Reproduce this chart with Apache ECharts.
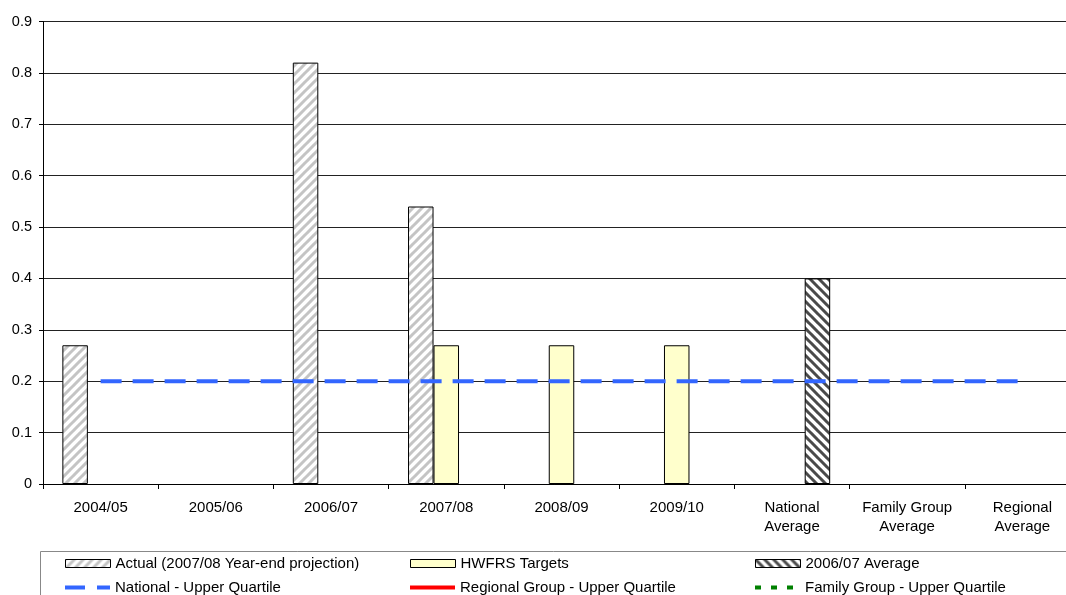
<!DOCTYPE html>
<html>
<head>
<meta charset="utf-8">
<script src="https://cdn.jsdelivr.net/npm/echarts@6/dist/echarts.min.js"></script>
<style>
  html, body { margin: 0; padding: 0; background: #fff; }
  #chart { width: 1066px; height: 595px; }
</style>
</head>
<body>
<div id="chart"></div>
<script>
// Categories along the x axis
const categories = ['2004/05', '2005/06', '2006/07', '2007/08', '2008/09', '2009/10',
  'National\nAverage', 'Family Group\nAverage', 'Regional\nAverage'];

// Bar series values
const actualValues = [0.27, null, 0.82, 0.54, null, null, null, null, null];
const targetValues = [null, null, null, 0.27, 0.27, 0.27, null, null, null];
const averageValues = [null, null, null, null, null, null, 0.40, null, null];

// Benchmark lines
const nationalUQ = [0.2, 0.2, 0.2, 0.2, 0.2, 0.2, 0.2, 0.2, 0.2];
const regionalUQ = [null, null, null, null, null, null, null, null, null];
const familyUQ = [null, null, null, null, null, null, null, null, null];

// Y axis
const yMin = 0, yMax = 0.9, yStep = 0.1;

const FONT = "'Liberation Sans', Arial, sans-serif";

// Diagonal hatch fill built on a small repeating canvas
function hatch(stripe, dir) {
  const size = 9;
  const c = document.createElement('canvas');
  c.width = size; c.height = size;
  const g = c.getContext('2d');
  g.fillStyle = '#ffffff';
  g.fillRect(0, 0, size, size);
  g.strokeStyle = stripe;
  g.lineWidth = 3;
  g.beginPath();
  for (let k = -1; k <= 1; k++) {
    if (dir === '/') {
      g.moveTo(k * size - 1, size + 1);
      g.lineTo(k * size + size + 1, -1);
    } else {
      g.moveTo(k * size - 1, -1);
      g.lineTo(k * size + size + 1, size + 1);
    }
  }
  g.stroke();
  return { image: c, repeat: 'repeat' };
}

const actualFill = hatch('#c4c4c4', '/');
const averageFill = hatch('#4a4a4a', '\\');

const chart = echarts.init(document.getElementById('chart'), null, { renderer: 'canvas' });

// Legend icons for the line entries, drawn as filled dash shapes
const ICON_DASH_LONG = 'path://M0,0h20v4h-20z M32,0h13v4h-13z';
const ICON_SOLID = 'path://M0,0h45v4h-45z';
const ICON_DASH_SHORT = 'path://M0,0h6v4h-6z M16,0h6v4h-6z M32,0h6v4h-6z M45,0h0v4h0z';

function legendAt(name, left, top, icon, h) {
  return {
    data: [{ name: name, icon: icon }], left: left, top: top, orient: 'horizontal',
    padding: 0, itemWidth: 45, itemHeight: h, itemGap: 0,
    itemStyle: { borderWidth: icon === 'rect' ? 1 : 0, borderColor: '#000' },
    textStyle: { fontFamily: FONT, fontSize: 15, color: '#000' },
    selectedMode: false
  };
}

const option = {
  animation: false,
  backgroundColor: '#fff',
  textStyle: { fontFamily: FONT, fontSize: 15, color: '#000' },
  grid: { left: 43, top: 21.5, width: 1037, bottom: 111, containLabel: false, outerBoundsMode: 'none' },
  xAxis: {
    type: 'category',
    data: categories,
    boundaryGap: true,
    axisLine: { lineStyle: { color: '#000', width: 1 } },
    axisTick: { show: true, length: 5, lineStyle: { color: '#000' }, inside: false },
    axisLabel: { fontFamily: FONT, fontSize: 15, color: '#000', margin: 14, lineHeight: 19, interval: 0 },
    splitLine: { show: false }
  },
  yAxis: {
    type: 'value',
    min: yMin, max: yMax, interval: yStep,
    axisLine: { show: true, lineStyle: { color: '#000', width: 1 } },
    axisTick: { show: true, length: 4, lineStyle: { color: '#000' } },
    axisLabel: { fontFamily: FONT, fontSize: 14.5, color: '#000', margin: 11,
      formatter: v => String(Math.round(v * 10) / 10) },
    splitLine: { show: true, lineStyle: { color: '#222', width: 1 } }
  },
  legend: [
    legendAt('Actual (2007/08 Year-end projection)', 65, 556, 'rect', 8),
    legendAt('HWFRS Targets', 410, 556, 'rect', 8),
    legendAt('2006/07 Average', 755, 556, 'rect', 8),
    legendAt('National - Upper Quartile', 65, 580, ICON_DASH_LONG, 4),
    legendAt('Regional Group - Upper Quartile', 410, 580, ICON_SOLID, 4),
    legendAt('Family Group - Upper Quartile', 755, 580, ICON_DASH_SHORT, 4)
  ],
  graphic: [{
    type: 'rect', left: 38, top: 549, z: -1,
    shape: { width: 1040, height: 60 },
    style: { fill: 'none', stroke: '#888', lineWidth: 1 }
  }],
  series: [
    {
      name: 'Actual (2007/08 Year-end projection)', type: 'bar', data: actualValues,
      barWidth: 25.5, barGap: '0%',
      itemStyle: { color: actualFill, borderColor: '#000', borderWidth: 1 }
    },
    {
      name: 'HWFRS Targets', type: 'bar', data: targetValues,
      barWidth: 25.5, barGap: '0%',
      itemStyle: { color: '#ffffcc', borderColor: '#000', borderWidth: 1 }
    },
    {
      name: '2006/07 Average', type: 'bar', data: averageValues,
      barWidth: 25.5, barGap: '0%',
      itemStyle: { color: averageFill, borderColor: '#000', borderWidth: 1 }
    },
    {
      name: 'National - Upper Quartile', type: 'line', data: nationalUQ,
      symbol: 'none', z: 5,
      lineStyle: { color: '#3366ff', width: 4, type: [21, 11] },
      itemStyle: { color: '#3366ff' }
    },
    {
      name: 'Regional Group - Upper Quartile', type: 'line', data: regionalUQ,
      symbol: 'none', z: 5,
      lineStyle: { color: '#ff0000', width: 3, type: 'solid' },
      itemStyle: { color: '#ff0000' }
    },
    {
      name: 'Family Group - Upper Quartile', type: 'line', data: familyUQ,
      symbol: 'none', z: 5,
      lineStyle: { color: '#008000', width: 3, type: [5, 12] },
      itemStyle: { color: '#008000' }
    }
  ]
};

chart.setOption(option);
</script>
</body>
</html>
